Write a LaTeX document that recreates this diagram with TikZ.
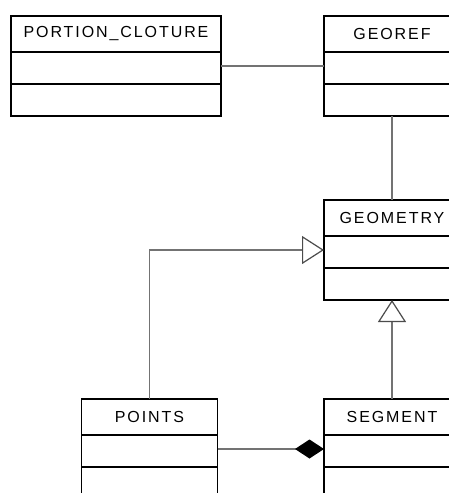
\documentclass[tikz,border=0pt]{standalone}
\usepackage{fontspec}
\newfontfamily\umlfont[LetterSpace=12]{Liberation Sans}
\usetikzlibrary{arrows.meta,calc}
\begin{document}
\begin{tikzpicture}[x=1pt,y=1pt,
  classbox/.style={draw=black, line width=1.3pt, fill=white, minimum width=#1, minimum height=100pt, inner sep=0pt, outer sep=0pt},
  classtitle/.style={font=\umlfont\fontsize{16}{19}\selectfont, text=black, inner sep=0pt},
  divider/.style={draw=black, line width=1.3pt},
  link/.style={draw=black!55, line width=1.2pt},
  gen/.style={link, -{Triangle[length=22pt,width=28pt,fill=white,color=black!70,line width=1.2pt]}},
  comp/.style={link, -{Diamond[length=29pt,width=19pt,fill=black,color=black]}},
]
\useasboundingbox (0,0) rectangle (449,-493);
\clip (0,0) rectangle (449,-493);
\fill[white] (0,0) rectangle (449,-493);

% class boxes
\node[classbox=210pt] (pc) at (116,-66) {};
\node[classbox=136pt] (georef) at (392,-66) {};
\node[classbox=136pt] (geometry) at (392,-250) {};
\node[classbox=136pt] (points) at (149.5,-449) {};
\node[classbox=136pt] (segment) at (392,-449) {};

% compartments and titles
\foreach \b/\t in {pc/PORTION\_CLOTURE, georef/GEOREF, geometry/GEOMETRY, points/POINTS, segment/SEGMENT}{
  \draw[divider] ($(\b.north west)+(0,-36)$) -- ($(\b.north east)+(0,-36)$);
  \draw[divider] ($(\b.north west)+(0,-68)$) -- ($(\b.north east)+(0,-68)$);
  \node[classtitle] (\b-title) at ($(\b.north)+(0,-18)$) {\t};
}

% connectors
\draw[link] (pc.east) -- (georef.west);
\draw[link] (georef.south) -- (geometry.north);
\draw[gen] (points.north) |- (geometry.west);
\draw[gen] (segment.north) -- (geometry.south);
\draw[comp] (points.east) -- (segment.west);
\end{tikzpicture}
\end{document}
